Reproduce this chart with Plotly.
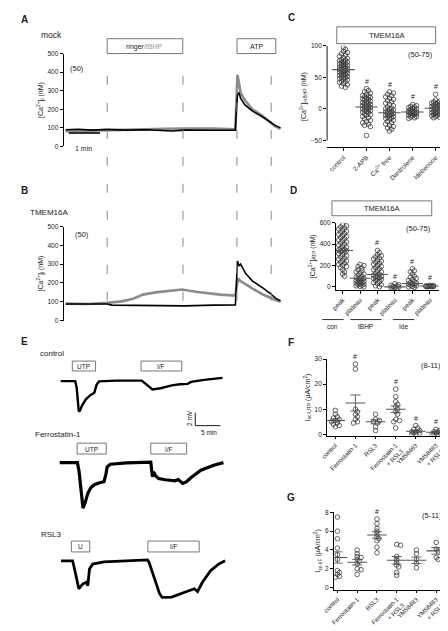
import numpy as np
import plotly.graph_objects as go

W, H = 448, 631
FONT = "Liberation Sans"
GRAY = "#8c8c8c"
INK = "#222222"

# ---------------- Panels A / B : [Ca2+]i traces (time in s, conc. in nM) ----------------
a_black_t = [4, 28, 56, 84, 121, 159, 209, 233, 289, 331, 333, 335, 338, 341, 349, 364, 383, 398, 407, 418]
a_black_v = [90, 93, 88, 92, 88, 90, 83, 88, 87, 88, 200, 275, 290, 260, 225, 190, 160, 130, 115, 100]
a_gray_t = [4, 47, 84, 140, 196, 233, 289, 331, 333, 335, 338, 341, 349, 364, 383, 398, 407, 418]
a_gray_v = [82, 85, 90, 92, 95, 96, 97, 92, 250, 385, 340, 290, 250, 200, 165, 130, 110, 95]
b_black_t = [4, 84, 93, 159, 233, 289, 331, 333, 335, 338, 341, 351, 364, 383, 398, 409, 418]
b_black_v = [88, 88, 82, 80, 78, 82, 83, 200, 317, 290, 300, 250, 210, 175, 145, 118, 105]
b_gray_t = [4, 47, 84, 112, 134, 153, 177, 209, 228, 258, 302, 331, 333, 336, 341, 355, 364, 383, 398, 409, 418]
b_gray_v = [90, 88, 94, 102, 116, 138, 150, 160, 165, 152, 138, 133, 170, 225, 210, 185, 170, 140, 120, 108, 100]
ca_ticks = [0, 100, 200, 300, 400, 500]
switch_times_s = [84, 230, 334, 400]

# ---------------- Panel E : Isc voltage traces (time in min, deflection in mV) ----------------
e_ctrl_t = [0.38, 3.27, 3.56, 3.75, 3.98, 4.23, 4.62, 5.38, 6.15, 7.06, 7.31, 7.5, 8.02, 11.54, 16.48, 17.31,
            18.08, 18.6, 20.19, 22.44, 24.04, 25.58, 26.29, 28.85, 32.5]
e_ctrl_v = [0, 0, -1.03, -3.34, -4.72, -4.57, -3.8, -2.83, -2.26, -1.8, -1.03, -0.57, -0.03, 0.08, 0.08, -0.42,
            -1.03, -1.29, -1.1, -0.65, -0.49, -0.42, -0.11, 0.2, 0.51]
e_ferro_t = [0.19, 3.71, 4.04, 4.42, 4.81, 5.19, 5.77, 6.35, 7.06, 8.08, 8.98, 9.33, 9.62, 10.25, 13.46, 18.27,
             18.6, 18.85, 19.23, 19.81, 21.15, 23.08, 23.71, 24.62, 25.38, 26.29, 28.21, 30.77, 32.69]
e_ferro_v = [0, 0, -1.43, -4.51, -7.08, -6.37, -4.77, -3.89, -3.43, -3.12, -2.97, -1.89, -0.66, -0.25, -0.05, 0.08,
             -2.2, -1.43, -2.05, -2.46, -2.66, -2.82, -2.62, -3.23, -2.97, -2.31, -1.17, -0.4, 0]
e_rsl3_t = [0.44, 2.75, 3.08, 3.52, 3.98, 4.33, 4.81, 5.44, 5.77, 6.1, 6.73, 8.98, 13.46, 17.63, 17.94, 18.65,
            19.23, 20.0, 20.52, 22.44, 25.0, 26.92, 27.56, 28.52, 30.13, 31.73, 33.02]
e_rsl3_v = [0, 0, -1.08, -2.77, -4.35, -4.0, -3.58, -3.34, -3.85, -1.28, -0.51, -0.15, 0, 0.15, -0.26, -2.0,
            -3.34, -5.08, -5.69, -5.65, -4.88, -4.35, -4.77, -3.34, -1.54, -0.51, 0]
scale_min, scale_mv = 5, 2

# ---------------- Panel C : [Ca2+]i-tBHP (nM) ----------------
c_labels = ["control", "2-APB", "Ca<sup>2+</sup> free", "Dantrolene", "Idebenone"]
c_control = [97, 94, 91, 89, 87, 85, 83, 81, 80, 78, 77, 76, 75, 74, 73, 72, 71, 70, 69, 68, 67, 66, 65, 64, 63,
             63, 62, 61, 60, 60, 59, 58, 57, 56, 55, 54, 53, 52, 51, 50, 49, 48, 47, 46, 44, 43, 42, 40, 38, 36, 34]
c_apb = [32, 29, 27, 25, 23, 21, 20, 19, 18, 17, 16, 15, 14, 12, 11, 10, 9, 8, 7, 6, 5, 4, 3, 2, 1, 0, -1, -2,
         -3, -4, -5, -6, -8, -9, -10, -12, -14, -16, -18, -20, -22, -24, -26, -28, -42]
c_cafree = [27, 25, 23, 21, 19, 17, 15, 13, 11, 9, 7, 5, 3, 1, 0, -1, -2, -3, -4, -5, -6, -7, -8, -9, -10, -11,
            -12, -13, -14, -15, -16, -18, -20, -22, -24, -26, -28, -30, -32, -35]
c_dantrolene = [7, 5, 4, 3, 2, 1, 0, -1, -2, -3, -4, -5, -5, -6, -6, -7, -7, -8, -9, -10, -11, -12, -13, -14, -15]
c_idebenone = [23, 14, 12, 11, 10, 9, 8, 7, 6, 5, 4, 3, 2, 1, 0, -1, -2, -3, -4, -5, -6, -7, -8, -9, -10, -11,
               -12, -13, -14]
c_mean = [62, 3, -6, -5, 1]
c_sem = [2, 2.5, 2.5, 1, 1.2]
c_sig = [False, True, True, True, True]
c_ticks = [-50, 0, 50, 100]

# ---------------- Panel D : [Ca2+]ATP (nM) ----------------
d_labels = ["peak", "plateau", "peak", "plateau", "peak", "plateau"]
d_groups = ["con", "tBHP", "Ide"]
d_con_peak = [580, 570, 560, 550, 540, 530, 520, 510, 500, 490, 480, 470, 460, 450, 440, 430, 420, 410, 400, 390,
              380, 370, 360, 350, 345, 340, 335, 330, 320, 310, 300, 290, 280, 270, 260, 250, 240, 230, 220, 210,
              200, 190, 180, 160, 140, 120, 100]
d_con_plat = [210, 200, 190, 175, 160, 150, 140, 130, 120, 110, 100, 90, 85, 80, 75, 70, 60, 55, 50, 45, 40, 35,
              30, 25, 20, 15, 10, 5, 0]
d_tbhp_peak = [340, 320, 300, 290, 280, 270, 260, 250, 240, 230, 220, 210, 200, 190, 180, 170, 160, 150, 140, 130,
               120, 110, 100, 95, 90, 85, 80, 75, 70, 60, 50, 40, 30, 20, 10, 0]
d_tbhp_plat = [30, 20, 15, 10, 5, 0, -5, -10, -15, -20]
d_ide_peak = [170, 150, 140, 120, 100, 90, 80, 70, 60, 50, 40, 35, 30, 25, 20, 15, 10, 5, 0, -5]
d_ide_plat = [15, 12, 10, 8, 6, 5, 4, 3, 2, 0]
d_mean = [340, 80, 115, 0, 32, 8]
d_sem = [15, 8, 12, 2, 6, 1]
d_sig = [False, False, True, True, True, True]
d_ticks = [0, 200, 400, 600]

# ---------------- Panel F : Isc-UTP ----------------
fg_labels = ["control", "Ferrostatin-1", "RSL3", "Ferrostatin-1<br>+ RSL3", "YM58483", "YM58483<br>+ RSL3"]
f_control = [9.5, 8, 7, 6.5, 6, 5.5, 5, 4.5, 4, 3.5, 3]
f_ferro = [28, 26, 10, 9, 8, 7, 6, 5, 4.5]
f_rsl3 = [8, 6, 5.5, 5, 4.5, 3, 1.5]
f_ferro_rsl3 = [18, 15, 13, 12, 11, 10, 9, 8, 6, 5.5, 5, 2.5]
f_ym = [3.5, 2.5, 2, 1.5, 1, 1, 0.5, 0.5, 0, 0]
f_ym_rsl3 = [2, 1.5, 1, 1, 0.5, 0.5, 0, 0, 0]
f_mean = [5.5, 12.5, 5, 10, 1.2, 0.8]
f_sem = [0.6, 3.2, 0.8, 1.3, 0.4, 0.3]
f_sig = [False, True, False, True, True, True]
f_ticks = [0, 10, 20, 30]

# ---------------- Panel G : Isc-I/F ----------------
g_control = [7.5, 6, 5.2, 4.2, 3.5, 3, 1.8, 1.6, 1.4, 1.2, 1.1]
g_ferro = [4, 3.6, 3.3, 3.2, 3, 2.8, 2.5, 2, 1.9, 1.4]
g_rsl3 = [7.3, 6.8, 6.3, 6, 5.7, 5.4, 5.2, 5, 4.3, 3.7]
g_ferro_rsl3 = [4.6, 4.5, 3.3, 3, 2.7, 2.4, 2.2, 1.6, 1.3]
g_ym = [4, 3.6, 3, 2.6, 2.1]
g_ym_rsl3 = [4.8, 4.1, 3.9, 3.2, 3]
g_mean = [3.2, 2.7, 5.6, 2.9, 2.9, 3.9]
g_sem = [0.6, 0.3, 0.35, 0.4, 0.35, 0.35]
g_sig = [False, False, True, False, False, False]
g_ticks = [0, 2, 4, 6, 8]


def PX(x):
    return x / W


def PY(y):
    return 1 - y / H


fig = go.Figure()
layout = dict(width=W, height=H, margin=dict(l=0, r=0, t=0, b=0), paper_bgcolor="white",
              plot_bgcolor="rgba(0,0,0,0)", showlegend=False,
              font=dict(family=FONT, size=7, color=INK))
annotations = []
shapes = []


def ann(text, x, y, size=8, bold=False, color=INK, xanchor="center", yanchor="middle", angle=0,
        xref="paper", yref="paper", yshift=0):
    if bold:
        text = "<b>" + text + "</b>"
    annotations.append(dict(text=text, x=x if xref != "paper" else PX(x), y=y if yref != "paper" else PY(y),
                            xref=xref, yref=yref, showarrow=False, xanchor=xanchor, yanchor=yanchor,
                            textangle=angle, yshift=yshift,
                            font=dict(family=FONT, size=size, color=color)))


def box(x0, y0, x1, y1, text, size=7):
    shapes.append(dict(type="rect", xref="paper", yref="paper", x0=PX(x0), x1=PX(x1), y0=PY(y1), y1=PY(y0),
                       line=dict(color="#555555", width=0.8)))
    ann(text, (x0 + x1) / 2, (y0 + y1) / 2 + 0.5, size=size)


def yaxis_style(domain_px, rng, ticks, title, anchor, showline=True):
    return dict(domain=[PY(domain_px[1]), PY(domain_px[0])], range=rng, anchor=anchor, tickvals=ticks,
                showline=showline, linecolor="black", linewidth=0.9, ticks="outside", ticklen=3,
                tickwidth=0.9, tickcolor="black", showgrid=False, zeroline=False,
                tickfont=dict(family=FONT, size=6.5, color=INK),
                title=dict(text=title, font=dict(family=FONT, size=7, color=INK), standoff=3))


def hidden_x(domain_px, rng, anchor):
    return dict(domain=[PX(domain_px[0]), PX(domain_px[1])], range=rng, anchor=anchor, visible=False,
                showgrid=False, zeroline=False)


# ---------------- A and B traces ----------------
layout["xaxis"] = hidden_x([45, 270], [0, 420], "y")
layout["yaxis"] = yaxis_style([42, 136], [0, 500], ca_ticks, "[Ca<sup>2+</sup>]<sub>i</sub> (nM)", "x")
layout["xaxis2"] = hidden_x([45, 270], [0, 420], "y2")
layout["yaxis2"] = yaxis_style([217, 312], [0, 500], ca_ticks, "[Ca<sup>2+</sup>]<sub>i</sub> (nM)", "x2")

fig.add_trace(go.Scatter(x=a_gray_t, y=a_gray_v, xaxis="x", yaxis="y", mode="lines",
                         line=dict(color=GRAY, width=2.6), hoverinfo="skip"))
fig.add_trace(go.Scatter(x=a_black_t, y=a_black_v, xaxis="x", yaxis="y", mode="lines",
                         line=dict(color="black", width=1.6), hoverinfo="skip"))
fig.add_trace(go.Scatter(x=b_gray_t, y=b_gray_v, xaxis="x2", yaxis="y2", mode="lines",
                         line=dict(color=GRAY, width=2.6), hoverinfo="skip"))
fig.add_trace(go.Scatter(x=b_black_t, y=b_black_v, xaxis="x2", yaxis="y2", mode="lines",
                         line=dict(color="black", width=1.6), hoverinfo="skip"))

for t in switch_times_s:
    shapes.append(dict(type="line", xref="x", yref="paper", x0=t, x1=t, y0=PY(292), y1=PY(50),
                       line=dict(color="#888888", width=1, dash="9px,18px")))
# 1 min scale bar
shapes.append(dict(type="line", xref="x", yref="y", x0=10, x1=70, y0=72, y1=72,
                   line=dict(color="#333333", width=2)))
ann("1 min", 66, 138, size=7)

ann("A", 5, 8, size=10, bold=True)
ann("mock", 33, 23, size=8.5)
ann("(50)", 59, 57, size=7.5)
box(90, 27, 168, 42, "ringer<span style='color:#999999'>/tBHP</span>")
box(224, 27, 264, 42, "ATP")
ann("B", 5, 181, size=10, bold=True)
ann("TMEM16A", 30, 203, size=8)
ann("(50)", 64, 225, size=7.5)

# ---------------- E traces ----------------
e_axes = [("x5", "y5", 373.3, e_ctrl_t, e_ctrl_v, 2.4),
          ("x6", "y6", 455.7, e_ferro_t, e_ferro_v, 3.2),
          ("x7", "y7", 555.0, e_rsl3_t, e_rsl3_v, 2.8)]
px_per_mv = 6.5
for xa, ya, base, tt, vv, lw in e_axes:
    n = xa[1:]
    layout["xaxis" + n] = hidden_x([40, 215], [0, 175 / 5.2], ya)
    layout["yaxis" + n] = dict(domain=[PY(base + 8 * px_per_mv), PY(base - 1.5 * px_per_mv)], range=[-8, 1.5],
                               anchor=xa, visible=False, showgrid=False, zeroline=False)
    fig.add_trace(go.Scatter(x=tt, y=vv, xaxis=xa, yaxis=ya, mode="lines",
                             line=dict(color="black", width=lw), hoverinfo="skip"))

# scale bars (5 min, 2 mV) on the control trace axes
sb_t0, sb_v0 = 27.1, -6.92
shapes.append(dict(type="line", xref="x5", yref="y5", x0=sb_t0, x1=sb_t0 + scale_min, y0=sb_v0, y1=sb_v0,
                   line=dict(color="black", width=0.9)))
shapes.append(dict(type="line", xref="x5", yref="y5", x0=sb_t0, x1=sb_t0, y0=sb_v0, y1=sb_v0 + scale_mv,
                   line=dict(color="black", width=0.9)))
ann("2 mV", 175, 411, size=6.5, angle=-90)
ann("5 min", 195, 425, size=6.5)

ann("E", 5, 333, size=10, bold=True)
ann("control", 33, 345, size=8)
box(54, 353, 78, 363, "UTP", size=6.5)
box(125, 353, 167, 363, "I/F", size=6.5)
ann("Ferrostatin-1", 39, 427, size=8)
box(59, 436, 89, 447, "UTP", size=6.5)
box(135, 436, 172, 447, "I/F", size=6.5)
ann("RSL3", 32, 528, size=8)
box(53, 535, 72, 546, "U", size=6.5)
box(132, 535, 185, 546, "I/F", size=6.5)


# ---------------- dot plots ----------------
def swarm_offsets(vals, ppu, step=2.0, thr=2.6, kmax=2):
    vals = np.asarray(vals, dtype=float)
    order = np.argsort(-vals, kind="stable")
    cands = [0.0]
    for k in range(1, kmax + 1):
        cands += [k * step, -k * step]
    placed = []
    offs = np.zeros(len(vals))
    for i in order:
        ypx = vals[i] * ppu
        best, bestd = 0.0, -1.0
        for c in cands:
            d = min([np.hypot(ypx - p[0], c - p[1]) for p in placed] or [1e9])
            if d >= thr:
                best = c
                break
            if d > bestd:
                bestd, best = d, c
        offs[i] = best
        placed.append((ypx, best))
    return offs


def dot_panel(n, groups, means, sems, sig, labels, xdom, xr, ydom, yr, yticks, ytitle, mean_w, cap,
              custom_yline=None, msize=4.6, mcolor="#333333", tickangle=-45, xtick_size=6.5):
    xa, ya = "x" + n, "y" + n
    layout["xaxis" + n] = dict(domain=[PX(xdom[0]), PX(xdom[1])], range=xr, anchor=ya,
                               tickvals=list(range(len(groups))), ticktext=labels, tickangle=tickangle,
                               showline=True, linecolor="black", linewidth=0.9, ticks="outside", ticklen=3,
                               tickwidth=0.9, tickcolor="black", showgrid=False, zeroline=False,
                               tickfont=dict(family=FONT, size=xtick_size, color=INK))
    layout["yaxis" + n] = yaxis_style(ydom, yr, yticks, ytitle, xa, showline=custom_yline is None)
    if custom_yline is not None:
        shapes.append(dict(type="line", xref=xa + " domain", yref=ya, x0=0, x1=0, y0=custom_yline[0],
                           y1=custom_yline[1], line=dict(color="black", width=0.9)))
    ppu = (ydom[1] - ydom[0]) / (yr[1] - yr[0])
    ppc = (xdom[1] - xdom[0]) / (xr[1] - xr[0])
    for i, vals in enumerate(groups):
        offs = swarm_offsets(vals, ppu)
        fig.add_trace(go.Scatter(x=i + offs / ppc, y=vals, xaxis=xa, yaxis=ya, mode="markers",
                                 marker=dict(symbol="circle-open", size=msize, color=mcolor,
                                             line=dict(width=0.75, color=mcolor)), hoverinfo="skip"))
        if sig[i]:
            ann("#", i, max(vals), size=7, xref=xa, yref=ya, yanchor="bottom", yshift=2)
    fig.add_trace(go.Scatter(x=list(range(len(groups))), y=means, xaxis=xa, yaxis=ya, mode="markers",
                             marker=dict(symbol="line-ew", size=mean_w, color="#555555",
                                         line=dict(width=1.1, color="#555555")),
                             error_y=dict(type="data", array=sems, width=cap, thickness=0.9, color="#555555"),
                             hoverinfo="skip"))


dot_panel("3", [c_control, c_apb, c_cafree, c_dantrolene, c_idebenone], c_mean, c_sem, c_sig, c_labels,
          [317, 440], [-0.71, 4.46], [34, 137], [-61, 100], c_ticks,
          "[Ca<sup>2+</sup>]<sub>i-tBHP</sub> (nM)", 16, 3, custom_yline=(-50, 100))
ann("C", 280, 6, size=10, bold=True)
box(327, 15, 429, 32, "TMEM16A", size=7.5)
ann("(50-75)", 413, 43, size=7.5)

dot_panel("4", [d_con_peak, d_con_plat, d_tbhp_peak, d_tbhp_plat, d_ide_peak, d_ide_plat], d_mean, d_sem,
          d_sig, d_labels, [326, 432], [-0.39, 5.5], [213, 281], [-28, 600], d_ticks,
          "[Ca<sup>2+</sup>]<sub>ATP</sub> (nM)", 15, 3)
ann("D", 282, 180, size=10, bold=True)
box(322, 191, 425, 206, "TMEM16A", size=7.5)
ann("(50-75)", 411, 219, size=7.5)
for (x0, x1), g in zip([(312, 334), (341, 373), (385, 407)], d_groups):
    shapes.append(dict(type="line", xref="paper", yref="paper", x0=PX(x0), x1=PX(x1), y0=PY(311), y1=PY(311),
                       line=dict(color="black", width=0.8)))
    ann(g, (x0 + x1) / 2, 318.5, size=6.5)

dot_panel("8", [f_control, f_ferro, f_rsl3, f_ferro_rsl3, f_ym, f_ym_rsl3], f_mean, f_sem, f_sig, fg_labels,
          [317, 436], [-0.41, 5.32], [351, 428.3], [-0.5, 30], f_ticks,
          "I<sub>sc-UTP</sub> (µA/cm<sup>2</sup>)", 14, 5, xtick_size=6.2)
ann("F", 280, 334, size=10, bold=True)
ann("(8-11)", 424, 357, size=7.5)

dot_panel("9", [g_control, g_ferro, g_rsl3, g_ferro_rsl3, g_ym, g_ym_rsl3], g_mean, g_sem, g_sig, fg_labels,
          [324, 437], [-0.18, 5.36], [506, 584], [-0.21, 8], g_ticks,
          "I<sub>sc-I/F</sub> (µA/cm<sup>2</sup>)", 14, 5, xtick_size=6.2)
ann("G", 280, 491, size=10, bold=True)
ann("(5-11)", 425, 509, size=7.5)

layout["annotations"] = annotations
layout["shapes"] = shapes
fig.update_layout(**layout)
fig.write_html("out.html")
